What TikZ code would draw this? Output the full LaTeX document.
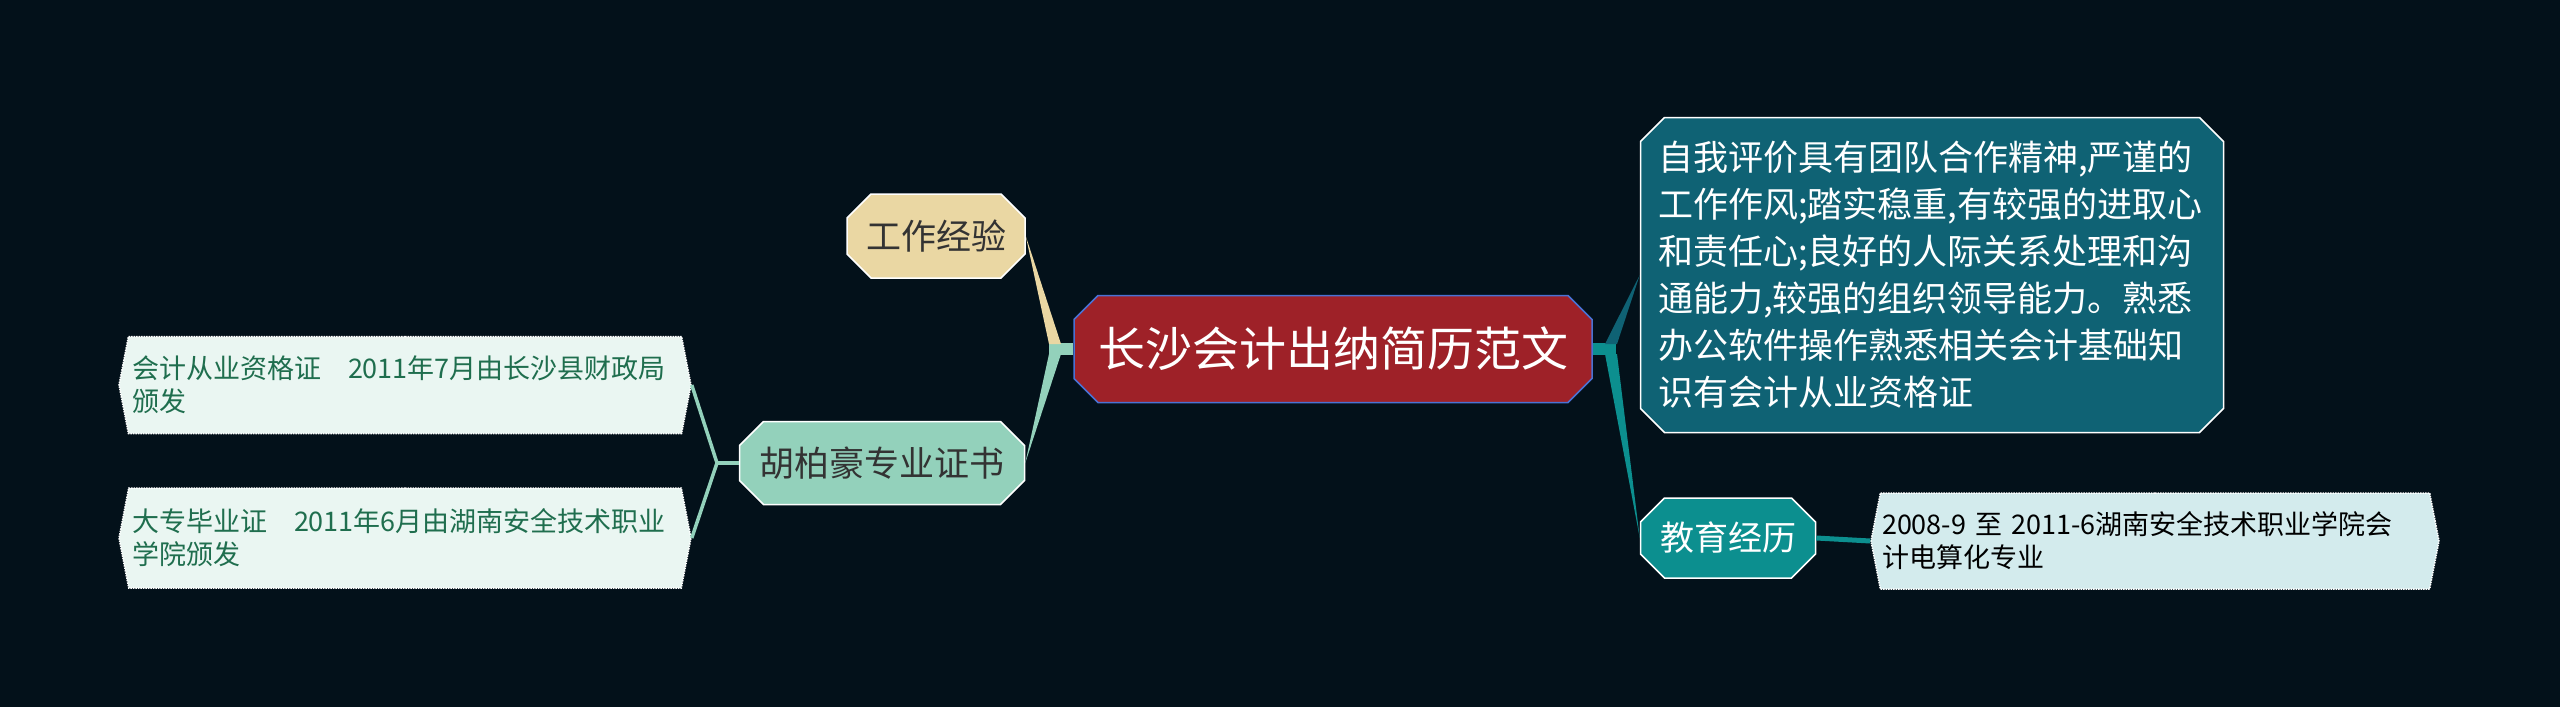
\documentclass[tikz,border=0pt]{standalone}
\usepackage{fontspec}
\setmainfont{Noto Sans CJK SC}
\usetikzlibrary{shapes.misc,shapes.symbols,calc}
\definecolor{sfondo}{HTML}{03111A}
\definecolor{rosso}{HTML}{9E2128}
\definecolor{bordoblu}{HTML}{4A72D4}
\definecolor{sabbia}{HTML}{EAD7A3}
\definecolor{menta}{HTML}{93D1BB}
\definecolor{mentachiaro}{HTML}{EAF6F2}
\definecolor{verdetesto}{HTML}{1F6E4E}
\definecolor{petrolio}{HTML}{0F6274}
\definecolor{ottanio}{HTML}{0C8F8F}
\definecolor{azzurrino}{HTML}{D3EBED}
\tikzset{
  cbox/.style={chamfered rectangle, chamfered rectangle xsep=12pt,
    chamfered rectangle ysep=12pt, inner sep=0pt, draw=white, line width=1.5pt},
  leafbox/.style={signal, signal to=west and east, signal pointer angle=158,
    inner sep=0pt, draw=white, densely dotted, line width=1.5pt,
    text width=546pt, align=left, font=\fontsize{27}{33}\selectfont},
}
\begin{document}
\begin{tikzpicture}[x=1pt,y=-1pt]
  \fill[sfondo] (0,0) rectangle (2560,707);
  \useasboundingbox (0,0) rectangle (2560,707);
  % centro
  \node[cbox, fill=rosso, draw=bordoblu, minimum width=518pt, minimum height=107pt,
    text=white, font=\fontsize{47}{56}\selectfont] (root) at (1333,349) {长沙会计出纳简历范文};
  % sinistra
  \node[cbox, fill=sabbia, minimum width=178pt, minimum height=84pt,
    text=black!80, font=\fontsize{35}{42}\selectfont] (work) at (936,236) {工作经验};
  \node[cbox, fill=menta, minimum width=285pt, minimum height=83pt,
    text=black!80, font=\fontsize{35}{42}\selectfont] (cert) at (882,463) {胡柏豪专业证书};
  \node[leafbox, fill=mentachiaro, text=verdetesto, minimum width=572pt, minimum height=97pt]
    (cert1) at (405,385) {会计从业资格证\quad 2011年7月由长沙县财政局\\颁发};
  \node[leafbox, fill=mentachiaro, text=verdetesto, minimum width=572pt, minimum height=100pt]
    (cert2) at (405,538) {大专毕业证\quad 2011年6月由湖南安全技术职业\\学院颁发};
  % destra
  \node[cbox, fill=petrolio, minimum width=583pt, minimum height=315pt, text=white,
    text width=548pt, align=left, font=\fontsize{35}{47}\selectfont] (self) at (1932,275)
    {自我评价具有团队合作精神,严谨的\\工作作风;踏实稳重,有较强的进取心\\和责任心;良好的人际关系处理和沟\\通能力,较强的组织领导能力。熟悉\\办公软件操作熟悉相关会计基础知\\识有会计从业资格证};
  \node[cbox, fill=ottanio, minimum width=175pt, minimum height=80pt,
    text=white, font=\fontsize{34}{42}\selectfont] (edu) at (1728,538) {教育经历};
  \node[leafbox, fill=azzurrino, text=black, minimum width=568pt, minimum height=96pt]
    (edu1) at (2155,541) {2008-9 至 2011-6湖南安全技术职业学院会\\计电算化专业};
  % rami
  \coordinate (jl) at (1055,349);
  \coordinate (jr) at (1611,349);
  \coordinate (jc) at (717,463);
  \draw[menta, line width=12pt] (root.west) -- ($(jl)+(-6,0)$);
  \fill[sabbia] ($(jl)+(-6,-5)$) -- ($(jl)+(6,-5)$) -- (work.east) -- cycle;
  \fill[menta] ($(jl)+(-6,5)$) -- ($(jl)+(6,5)$) -- (cert.east) -- cycle;
  \draw[menta, line width=4pt] (cert.west) -- (jc);
  \draw[menta, line width=3.5pt] (jc) -- (cert1.east);
  \draw[menta, line width=3.5pt] (jc) -- (cert2.east);
  \draw[ottanio, line width=12pt] (root.east) -- ($(jr)+(5,0)$);
  \fill[petrolio] ($(jr)+(-6,-5)$) -- ($(jr)+(6,-5)$) -- (self.west) -- cycle;
  \fill[ottanio] ($(jr)+(-6,5)$) -- ($(jr)+(6,5)$) -- (edu.west) -- cycle;
  \draw[ottanio, line width=5pt] (edu.east) -- (edu1.west);
\end{tikzpicture}
\end{document}
